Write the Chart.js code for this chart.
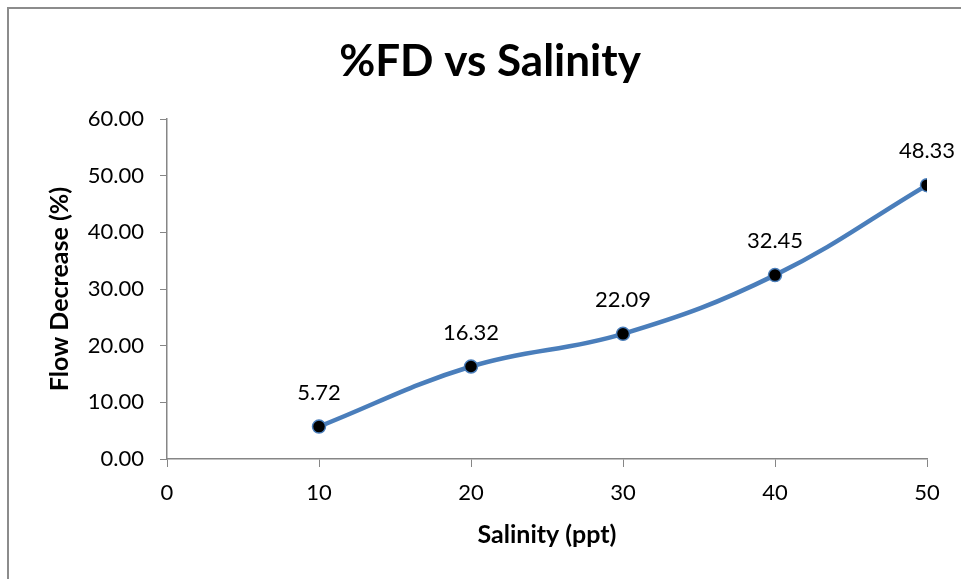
<!DOCTYPE html>
<html>
<head>
<meta charset="utf-8">
<script src="https://cdn.jsdelivr.net/npm/chart.js@4/dist/chart.umd.min.js"></script>
<style>
  html, body { margin: 0; padding: 0; background: #fff; overflow: hidden; }
  #wrap { position: relative; width: 961px; height: 579px; }
  #frame { position: absolute; left: 7px; top: 7px; width: 1000px; height: 1000px;
           border-left: 2px solid #8c8c8c; border-top: 2px solid #8c8c8c; }
  canvas { position: absolute; left: 0; top: 0; }
</style>
</head>
<body>
<div id="wrap">
  <div id="frame"></div>
  <canvas id="c" width="961" height="579"></canvas>
</div>
<script>
/* Flow decrease vs salinity. */
var salinity = [10, 20, 30, 40, 50];
var flowDecrease = [5.72, 16.32, 22.09, 32.45, 48.33];
var valueLabels = ['5.72', '16.32', '22.09', '32.45', '48.33'];
var chartTitle = '%FD vs Salinity';

var FONT = 'Lato, "Open Sans", sans-serif';
var AXIS = '#868686';
var BLUE = '#4a7ebb';

/* Title is centred on the whole frame, not the plot, so draw it by hand. */
var frameTitle = {
  id: 'frameTitle',
  afterDraw: function (chart) {
    var ctx = chart.ctx;
    ctx.save();
    ctx.font = 'bold 44px ' + FONT;
    ctx.fillStyle = '#000';
    ctx.textAlign = 'center';
    ctx.textBaseline = 'middle';
    ctx.fillText(chartTitle, 490, 62);
    ctx.restore();
  }
};

/* Value text above each point, Excel style. */
var pointLabels = {
  id: 'pointLabels',
  afterDatasetsDraw: function (chart) {
    var ctx = chart.ctx;
    var meta = chart.getDatasetMeta(0);
    ctx.save();
    ctx.font = '22px ' + FONT;
    ctx.fillStyle = '#000';
    ctx.textAlign = 'center';
    ctx.textBaseline = 'middle';
    meta.data.forEach(function (pt, i) {
      ctx.fillText(valueLabels[i], pt.x, pt.y - 34);
    });
    ctx.restore();
  }
};

new Chart(document.getElementById('c'), {
  type: 'line',
  data: {
    datasets: [{
      data: salinity.map(function (s, i) { return { x: s, y: flowDecrease[i] }; }),
      borderColor: BLUE,
      borderWidth: 4.5,
      tension: 0.4,
      pointRadius: 6.5,
      pointBackgroundColor: '#000',
      pointBorderColor: BLUE,
      pointBorderWidth: 1.5
    }]
  },
  options: {
    responsive: false,
    animation: false,
    layout: { padding: { left: 0, right: 34, top: 119, bottom: 0 } },
    plugins: {
      legend: { display: false },
      tooltip: { enabled: false },
      title: { display: false }
    },
    scales: {
      x: {
        type: 'linear',
        min: 0, max: 50,
        ticks: { stepSize: 10, color: '#000', padding: 13, font: { family: FONT, size: 22 } },
        grid: { drawOnChartArea: false, drawTicks: true, tickLength: 8, color: AXIS },
        border: { color: AXIS, width: 1.5 },
        title: { display: true, text: 'Salinity (ppt)', color: '#000',
                 font: { family: FONT, size: 25, weight: 'bold' }, padding: { top: 0, bottom: 29 } },
        afterFit: function (s) { s.height = 120; }
      },
      y: {
        min: 0, max: 60,
        ticks: { stepSize: 10, color: '#000', padding: 16, font: { family: FONT, size: 22 },
                 callback: function (v) { return v.toFixed(2); } },
        grid: { drawOnChartArea: false, drawTicks: true, tickLength: 7, color: AXIS },
        border: { color: AXIS, width: 1.5 },
        title: { display: true, text: 'Flow Decrease (%)', color: '#000',
                 font: { family: FONT, size: 25, weight: 'bold' }, padding: { top: 45, bottom: 0 } },
        afterFit: function (s) { s.width = 167; }
      }
    }
  },
  plugins: [pointLabels, frameTitle]
});
</script>
</body>
</html>
